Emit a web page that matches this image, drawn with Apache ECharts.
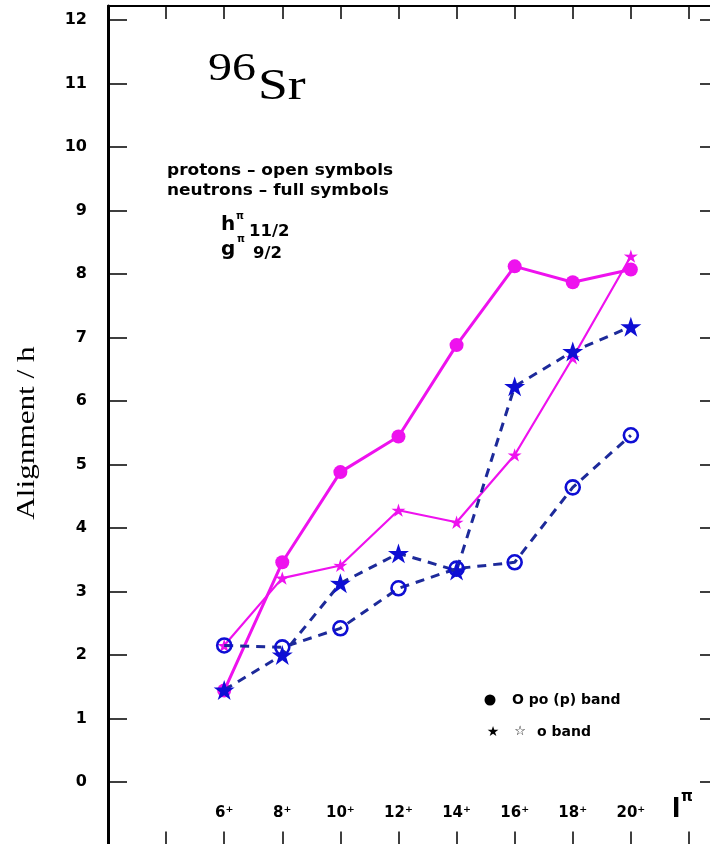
<!DOCTYPE html>
<html>
<head>
<meta charset="utf-8">
<script src="https://cdn.jsdelivr.net/npm/echarts@6/dist/echarts.min.js"></script>
<style>
  html, body { margin: 0; padding: 0; background: #fff; overflow: hidden; }
  #chart { width: 710px; height: 844px; }
</style>
</head>
<body>
<div id="chart"></div>
<script>
// Spin states along the band and their tick labels
const spins = [6, 8, 10, 12, 14, 16, 18, 20];
const spinLabels = ['6⁺', '8⁺', '10⁺', '12⁺', '14⁺', '16⁺', '18⁺', '20⁺'];
const yTickValues = [0, 1, 2, 3, 4, 5, 6, 7, 8, 9, 10, 11, 12];

// Alignment (hbar) per spin state
const pinkDots  = [1.44, 3.46, 4.88, 5.44, 6.88, 8.12, 7.87, 8.07]; // magenta full circles
const pinkStars = [2.15, 3.21, 3.41, 4.28, 4.09, 5.15, 6.68, 8.28]; // magenta full stars
const blueStars = [1.45, 2.00, 3.13, 3.60, 3.33, 6.23, 6.78, 7.17]; // blue stars, dashed
const blueRings = [2.15, 2.12, 2.42, 3.05, 3.36, 3.46, 4.64, 5.46]; // blue open circles, dashed

const MAGENTA = '#ee12ee';
const BLUE = '#0e0ed4';
const BLUE_LINE = '#1d2a9a';
const STAR = 'path://M50,0 L61.2,34.6 L97.6,34.5 L68,55.9 L79.4,90.5 L50,69 L20.6,90.5 L32,55.9 L2.4,34.5 L38.8,34.6 Z';

const pairs = vals => spins.map((s, i) => [s, vals[i]]);

const chart = echarts.init(document.getElementById('chart'), null, { renderer: 'canvas' });

const sansBold = { fontFamily: 'DejaVu Sans', fontWeight: 'bold', color: '#000' };
const frameLine = { show: true, onZero: false, lineStyle: { color: '#000', width: 2 } };

const option = {
  backgroundColor: '#fff',
  animation: false,
  // the frame runs past the right and bottom edges of the page
  grid: { left: 108, top: 6, width: 610, height: 839.5, containLabel: false, outerBoundsMode: 'none' },
  xAxis: [
    {
      type: 'value', position: 'bottom', min: 2, max: 23, interval: 2,
      axisLine: frameLine,
      axisTick: { show: true, inside: true, length: 14, lineStyle: { color: '#000', width: 1.5 } },
      splitLine: { show: false },
      axisLabel: {
        inside: true, margin: 25, fontSize: 15, ...sansBold,
        showMinLabel: true, showMaxLabel: true,
        formatter: v => { const i = spins.indexOf(v); return i >= 0 ? spinLabels[i] : ''; }
      }
    },
    {
      type: 'value', position: 'top', min: 2, max: 23, interval: 2,
      axisLine: frameLine,
      axisTick: { show: true, inside: true, length: 13, lineStyle: { color: '#000', width: 1.5 } },
      splitLine: { show: false },
      axisLabel: { show: false }
    }
  ],
  yAxis: [
    {
      type: 'value', position: 'left', min: -1, max: 12.22, interval: 1,
      axisLine: { show: true, onZero: false, lineStyle: { color: '#000', width: 3 } },
      axisTick: { show: true, inside: true, length: 19, lineStyle: { color: '#000', width: 1.5 } },
      splitLine: { show: false },
      axisLabel: {
        margin: 21, fontSize: 16, ...sansBold,
        showMinLabel: true, showMaxLabel: true,
        formatter: v => (yTickValues.indexOf(v) >= 0 ? String(v) : '')
      }
    },
    {
      type: 'value', position: 'right', min: -1, max: 12.22, interval: 1,
      axisLine: frameLine,
      axisTick: { show: true, inside: true, length: 18, lineStyle: { color: '#000', width: 1.5 } },
      splitLine: { show: false },
      axisLabel: { show: false }
    }
  ],
  series: [
    {
      name: 'po (p) band, neutrons', type: 'line', data: pairs(pinkDots),
      symbol: 'circle', symbolSize: 14,
      itemStyle: { color: MAGENTA },
      lineStyle: { color: MAGENTA, width: 3 }, z: 2
    },
    {
      name: 'o band, neutrons', type: 'line', data: pairs(pinkStars),
      symbol: STAR, symbolSize: 14, symbolKeepAspect: true,
      itemStyle: { color: MAGENTA },
      lineStyle: { color: MAGENTA, width: 2.2 }, z: 3
    },
    {
      name: 'o band, protons', type: 'line', data: pairs(blueStars),
      symbol: STAR, symbolSize: 21, symbolKeepAspect: true,
      itemStyle: { color: BLUE },
      lineStyle: { color: BLUE_LINE, width: 3, type: [9, 7] }, z: 4
    },
    {
      name: 'po (p) band, protons', type: 'line', data: pairs(blueRings),
      symbol: 'circle', symbolSize: 14,
      itemStyle: { color: 'rgba(0,0,0,0)', borderColor: BLUE, borderWidth: 2.6 },
      lineStyle: { color: BLUE_LINE, width: 3, type: [9, 7] }, z: 5
    }
  ],
  graphic: [
    // vertical axis title
    { type: 'text', x: 27, y: 433, rotation: Math.PI / 2, scaleX: 1.2,
      style: { text: 'Alignment / h', font: '26px "Liberation Serif"', fill: '#000', align: 'center', verticalAlign: 'middle' } },
    // nucleus label
    { type: 'text', x: 208, y: 69, scaleX: 1.17,
      style: { text: '96', font: '41px "Liberation Serif"', fill: '#000', align: 'left', verticalAlign: 'middle' } },
    { type: 'text', x: 258, y: 87, scaleX: 1.22,
      style: { text: 'Sr', font: '44px "Liberation Serif"', fill: '#000', align: 'left', verticalAlign: 'middle' } },
    // symbol key
    { type: 'text', x: 167, y: 171, scaleX: 1.06,
      style: { text: 'protons – open symbols', font: 'bold 16px "DejaVu Sans"', fill: '#000', align: 'left', verticalAlign: 'middle' } },
    { type: 'text', x: 167, y: 191, scaleX: 1.06,
      style: { text: 'neutrons – full symbols', font: 'bold 16px "DejaVu Sans"', fill: '#000', align: 'left', verticalAlign: 'middle' } },
    // orbitals
    { type: 'text', x: 221, y: 225,
      style: { text: 'h', font: 'bold 20px "DejaVu Sans"', fill: '#000', align: 'left', verticalAlign: 'middle' } },
    { type: 'text', x: 236, y: 216,
      style: { text: 'π', font: 'bold 10px "DejaVu Sans"', fill: '#000', align: 'left', verticalAlign: 'middle' } },
    { type: 'text', x: 249, y: 232, scaleX: 1.1,
      style: { text: '11/2', font: 'bold 15px "DejaVu Sans"', fill: '#000', align: 'left', verticalAlign: 'middle' } },
    { type: 'text', x: 221, y: 250,
      style: { text: 'g', font: 'bold 20px "DejaVu Sans"', fill: '#000', align: 'left', verticalAlign: 'middle' } },
    { type: 'text', x: 237, y: 239,
      style: { text: 'π', font: 'bold 10px "DejaVu Sans"', fill: '#000', align: 'left', verticalAlign: 'middle' } },
    { type: 'text', x: 253, y: 254, scaleX: 1.1,
      style: { text: '9/2', font: 'bold 15px "DejaVu Sans"', fill: '#000', align: 'left', verticalAlign: 'middle' } },
    // band legend
    { type: 'circle', shape: { cx: 490, cy: 700, r: 5.5 }, style: { fill: '#000' } },
    { type: 'text', x: 512, y: 700,
      style: { text: 'O po (p) band', font: 'bold 14px "DejaVu Sans"', fill: '#000', align: 'left', verticalAlign: 'middle' } },
    { type: 'text', x: 493, y: 732,
      style: { text: '★', font: '14px "DejaVu Sans"', fill: '#000', align: 'center', verticalAlign: 'middle' } },
    { type: 'text', x: 520, y: 732,
      style: { text: '☆', font: 'bold 13px "DejaVu Sans"', fill: '#000', align: 'center', verticalAlign: 'middle' } },
    { type: 'text', x: 537, y: 732,
      style: { text: 'o band', font: 'bold 14px "DejaVu Sans"', fill: '#000', align: 'left', verticalAlign: 'middle' } },
    // spin axis title
    { type: 'text', x: 672, y: 809,
      style: { text: 'I', font: 'bold 30px "Liberation Sans"', fill: '#000', align: 'left', verticalAlign: 'middle' } },
    { type: 'text', x: 681, y: 797,
      style: { text: 'π', font: 'bold 15px "DejaVu Sans"', fill: '#000', align: 'left', verticalAlign: 'middle' } }
  ]
};

chart.setOption(option);
</script>
</body>
</html>
